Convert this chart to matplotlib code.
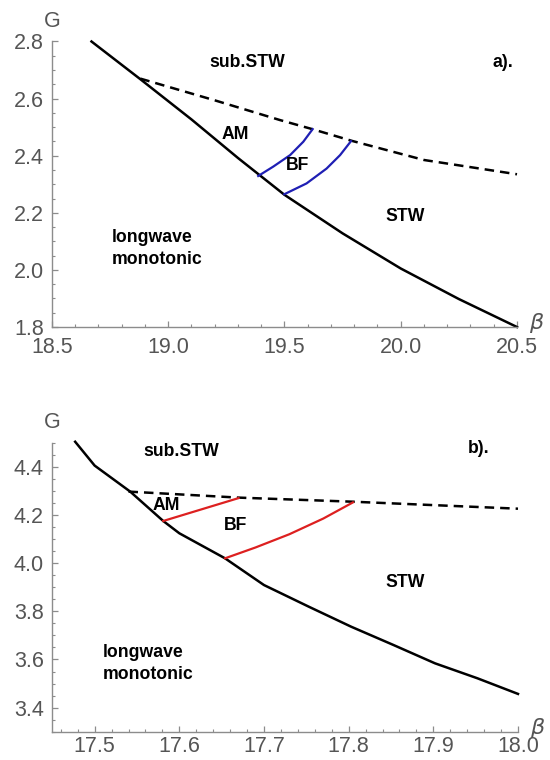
import numpy as np
import matplotlib
matplotlib.use("Agg")
import matplotlib.pyplot as plt
from matplotlib.ticker import MultipleLocator, FormatStrFormatter

plt.rcParams["font.family"] = ["Liberation Sans", "DejaVu Sans"]

# ---- panel a) data (beta, G) ----
a_black_b = [18.67, 18.88, 19.10, 19.30, 19.50, 19.75, 20.00, 20.25, 20.50]
a_black_g = [2.800, 2.668, 2.527, 2.392, 2.263, 2.128, 2.005, 1.898, 1.800]
a_dash_b = [18.88, 19.20, 19.48, 19.62, 19.79, 20.10, 20.50]
a_dash_g = [2.670, 2.594, 2.525, 2.493, 2.452, 2.385, 2.335]
a_blue1_b = [19.387, 19.452, 19.524, 19.581, 19.621]
a_blue1_g = [2.329, 2.362, 2.402, 2.449, 2.493]
a_blue2_b = [19.499, 19.595, 19.681, 19.739, 19.786]
a_blue2_g = [2.265, 2.303, 2.355, 2.402, 2.451]

# ---- panel b) data ----
b_black_b = [17.477, 17.500, 17.542, 17.581, 17.600, 17.654, 17.700, 17.753,
             17.803, 17.853, 17.902, 17.952, 18.000]
b_black_g = [4.504, 4.405, 4.297, 4.175, 4.124, 4.020, 3.909, 3.819,
             3.736, 3.660, 3.584, 3.522, 3.457]
b_dash_b = [17.540, 17.670, 17.805, 18.000]
b_dash_g = [4.297, 4.272, 4.255, 4.226]
b_red1_b = [17.581, 17.670]
b_red1_g = [4.175, 4.270]
b_red2_b = [17.654, 17.690, 17.730, 17.770, 17.805]
b_red2_g = [4.020, 4.065, 4.120, 4.185, 4.252]

# region labels: (text, beta, G)
a_labels = [("sub.STW", 19.34, 2.728), ("AM", 19.287, 2.476), ("BF", 19.558, 2.365),
            ("STW", 20.017, 2.186), ("a).", 20.44, 2.728)]
b_labels = [("sub.STW", 17.602, 4.462), ("AM", 17.585, 4.241), ("BF", 17.666, 4.155),
            ("STW", 17.867, 3.919), ("b).", 17.954, 4.474)]

GRAY_AX = "#8c8c8c"
GRAY_TXT = "#555555"
DASH = (0, (3.8, 2.4))


def style_axes(ax, xlim, ylim, xmaj, xmin, ymaj, ymin, xpad=7):
    ax.set_xlim(xlim)
    ax.set_ylim(ylim)
    for s in ["top", "right"]:
        ax.spines[s].set_visible(False)
    for s in ["left", "bottom"]:
        ax.spines[s].set_color(GRAY_AX)
        ax.spines[s].set_linewidth(1.0)
    ax.xaxis.set_major_locator(MultipleLocator(xmaj))
    ax.xaxis.set_minor_locator(MultipleLocator(xmin))
    ax.yaxis.set_major_locator(MultipleLocator(ymaj))
    ax.yaxis.set_minor_locator(MultipleLocator(ymin))
    ax.tick_params(which="both", direction="in", color=GRAY_AX, labelcolor=GRAY_TXT,
                   labelsize=15.5)
    ax.tick_params(axis="x", which="major", pad=xpad)
    ax.tick_params(axis="y", which="major", pad=6)
    ax.tick_params(which="major", length=4.5, width=0.9)
    ax.tick_params(which="minor", length=2.5, width=0.8)
    ax.xaxis.set_major_formatter(FormatStrFormatter("%.1f"))
    ax.yaxis.set_major_formatter(FormatStrFormatter("%.1f"))
    # axis names like Mathematica AxesLabel
    ax.text(0.0, 1.035, "G", transform=ax.transAxes, ha="center", va="bottom",
            fontsize=15.5, color=GRAY_TXT)
    ax.annotate(r"$\beta$", xy=(1.0, 0.0), xycoords="axes fraction", xytext=(14, 3),
                textcoords="offset points", ha="center", va="center",
                fontsize=16, color=GRAY_TXT)


def region_labels(ax, labels, lw_x, lw_y):
    for t, x, y in labels:
        ax.text(x, y, t, ha="center", va="center", fontsize=12.7, fontweight="bold")
    ax.text(lw_x, lw_y, "longwave\nmonotonic", ha="left", va="center", fontsize=12.7,
            fontweight="bold", linespacing=1.4)


fig = plt.figure(figsize=(5.5, 7.6), dpi=100)
ax1 = fig.add_axes([0.0945, 0.5697, 0.8455, 0.3757])
ax2 = fig.add_axes([0.0951, 0.0372, 0.8467, 0.3803])

# panel a)
style_axes(ax1, (18.5, 20.5), (1.8, 2.8), 0.5, 0.1, 0.2, 0.05)
ax1.plot(a_black_b, a_black_g, color="black", lw=1.8, clip_on=False)
ax1.plot(a_dash_b, a_dash_g, color="black", lw=1.8, ls=DASH, clip_on=False)
ax1.plot(a_blue1_b, a_blue1_g, color="#1f1fb4", lw=1.6)
ax1.plot(a_blue2_b, a_blue2_g, color="#1f1fb4", lw=1.6)
region_labels(ax1, a_labels, 18.756, 2.076)

# panel b)
style_axes(ax2, (17.45, 18.0), (3.3, 4.5), 0.1, 0.02, 0.2, 0.05, xpad=3)
ax2.plot(b_black_b, b_black_g, color="black", lw=1.8, clip_on=False)
ax2.plot(b_dash_b, b_dash_g, color="black", lw=1.8, ls=DASH, clip_on=False)
ax2.plot(b_red1_b, b_red1_g, color="#dd2020", lw=1.6)
ax2.plot(b_red2_b, b_red2_g, color="#dd2020", lw=1.6)
region_labels(ax2, b_labels, 17.51, 3.583)

fig.savefig("out.png", dpi=100)
